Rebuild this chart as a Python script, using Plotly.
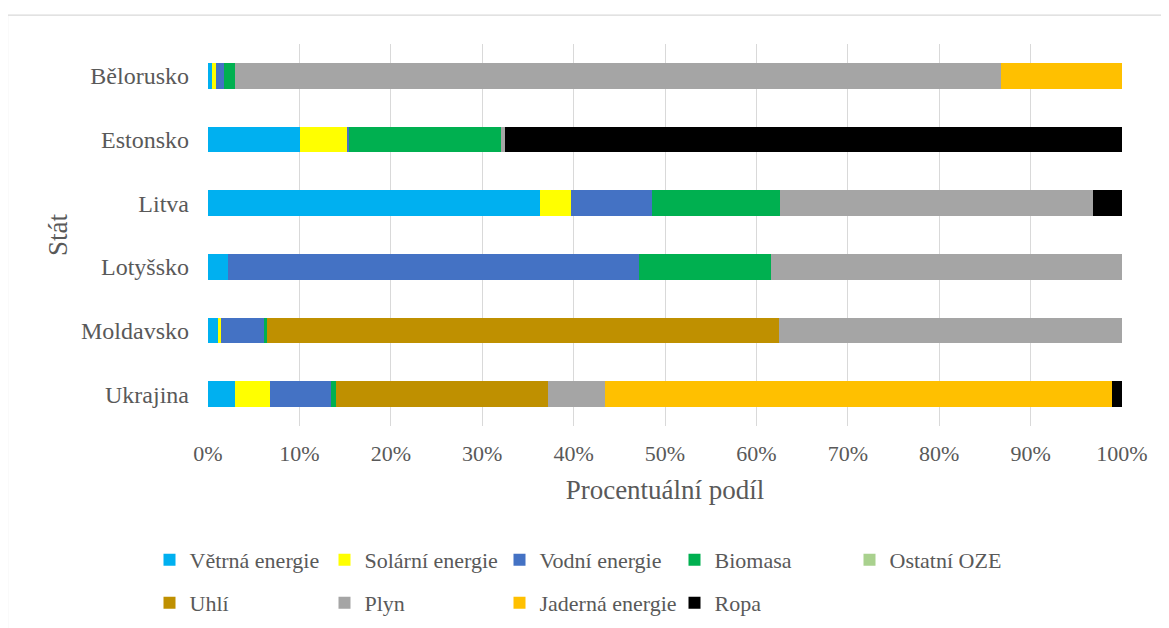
import plotly.graph_objects as go

states = ["Ukrajina", "Moldavsko", "Lotyšsko", "Litva", "Estonsko", "Bělorusko"]

vetrna   = [2.9, 1.2, 2.2, 36.3, 10.1, 0.44]
solarni  = [3.85, 0.2, 0.0, 3.4, 5.1, 0.4]
vodni    = [6.7, 4.75, 45.0, 8.9, 0.25, 0.9]
biomasa  = [0.5, 0.35, 14.4, 14.0, 16.6, 1.2]
ostatni  = [0.0, 0.0, 0.0, 0.0, 0.0, 0.0]
uhli     = [23.2, 56.0, 0.0, 0.0, 0.0, 0.0]
plyn     = [6.25, 37.5, 38.4, 34.2, 0.45, 83.86]
jaderna  = [55.5, 0.0, 0.0, 0.0, 0.0, 13.2]
ropa     = [1.1, 0.0, 0.0, 3.2, 67.5, 0.0]

series_names = ["Větrná energie", "Solární energie", "Vodní energie", "Biomasa",
                "Ostatní OZE", "Uhlí", "Plyn", "Jaderná energie", "Ropa"]
series_values = [vetrna, solarni, vodni, biomasa, ostatni, uhli, plyn, jaderna, ropa]
colors = ["#00B0F0", "#FFFF00", "#4472C4", "#00B050", "#A9D18E",
          "#BF9000", "#A5A5A5", "#FFC000", "#000000"]

FONT = "'Liberation Serif', 'Times New Roman', Tinos, 'DejaVu Serif', serif"
TXT = "#595959"

fig = go.Figure()
for i, (name, vals, col) in enumerate(zip(series_names, series_values, colors)):
    fig.add_trace(go.Bar(
        y=states, x=vals, name=name, orientation="h",
        marker=dict(color=col, line=dict(width=0)),
        legend="legend" if i < 5 else "legend2",
    ))

OFF = 8  # browser body margin
W, H = 1169 - OFF, 628 - OFF
L, R, T, B = 208 - OFF, 47, 43.5 - OFF, 202
pw = W - L - R
ph = H - T - B

def px2paper_x(px):
    return (px - OFF - L) / pw

def px2paper_y(py):
    return (H - B - (py - OFF)) / ph

fig.update_layout(
    width=W, height=H,
    margin=dict(l=L, r=R, t=T, b=B, autoexpand=False),
    barmode="stack", bargap=0.592,
    plot_bgcolor="white", paper_bgcolor="white",
    font=dict(family=FONT, size=22, color=TXT),
    xaxis=dict(
        range=[0, 100], dtick=10, ticksuffix="%",
        showgrid=True, gridcolor="#D9D9D9", gridwidth=1,
        zeroline=False, showline=False,
        ticklabelstandoff=12,
        tickfont=dict(family=FONT, size=22, color=TXT),
        title=dict(text="Procentuální podíl", font=dict(family=FONT, size=27, color=TXT), standoff=15),
    ),
    yaxis=dict(
        showgrid=False, zeroline=False, showline=False,
        ticklabelstandoff=18,
        tickfont=dict(family=FONT, size=24, color=TXT),
        title=dict(text="Stát", font=dict(family=FONT, size=27, color=TXT), standoff=5),
    ),
    legend=dict(
        orientation="h", xref="container", yref="container",
        x=141.5 / W, y=1 - (560 - OFF) / H, xanchor="left", yanchor="middle",
        entrywidth=130, entrywidthmode="pixels",
        font=dict(family=FONT, size=22, color=TXT), traceorder="normal",
        bgcolor="rgba(0,0,0,0)", itemclick=False,
    ),
    legend2=dict(
        orientation="h", xref="container", yref="container",
        x=141.5 / W, y=1 - (603 - OFF) / H, xanchor="left", yanchor="middle",
        entrywidth=130, entrywidthmode="pixels",
        font=dict(family=FONT, size=22, color=TXT), traceorder="normal",
        bgcolor="rgba(0,0,0,0)", itemclick=False,
    ),
    shapes=[dict(
        type="rect", xref="paper", yref="paper",
        x0=px2paper_x(7.5), x1=px2paper_x(1190),
        y0=px2paper_y(650), y1=px2paper_y(14.5),
        line=dict(color="#D9D9D9", width=1.3), fillcolor="rgba(0,0,0,0)", layer="below",
    )],
)

fig.write_html("out.html")
